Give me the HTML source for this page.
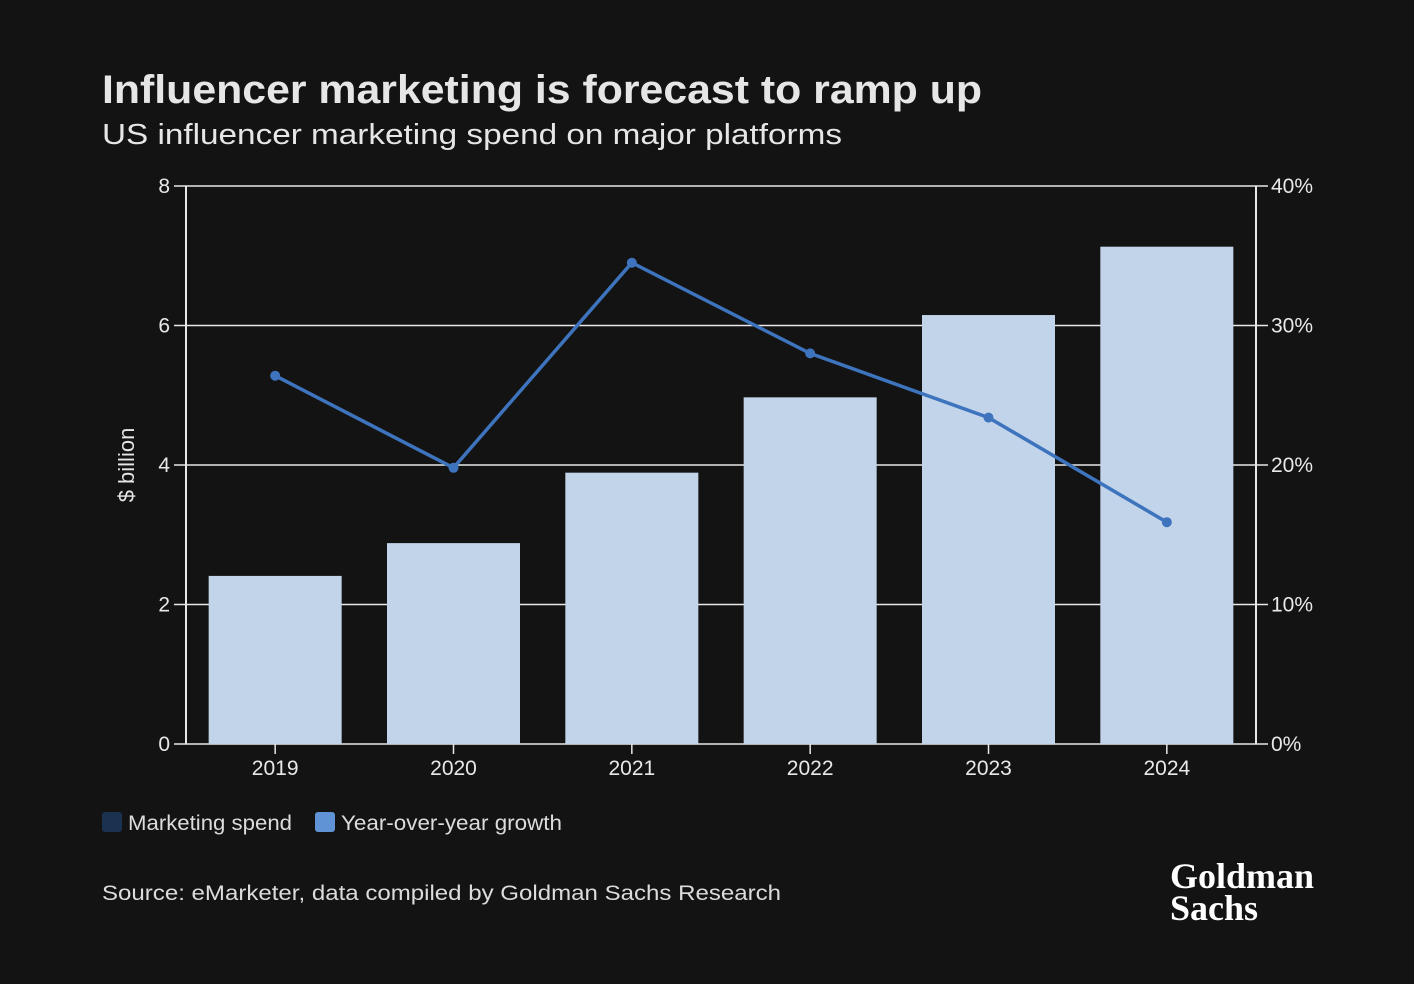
<!DOCTYPE html>
<html><head><meta charset="utf-8"><style>
body{margin:0;background:#131313;width:1414px;height:984px;overflow:hidden;font-family:"Liberation Sans",sans-serif;color:#e6e6e6}
svg{display:block}
svg text{font-family:"Liberation Sans",sans-serif}
</style></head><body>
<svg width="1414" height="984">
<text x="102" y="103" font-size="40" font-weight="bold" fill="#e6e6e6" textLength="880" lengthAdjust="spacingAndGlyphs">Influencer marketing is forecast to ramp up</text>
<text x="102" y="144" font-size="29" fill="#e6e6e6" textLength="740" lengthAdjust="spacingAndGlyphs">US influencer marketing spend on major platforms</text>
<g id="grid"></g><g id="bars"></g><g id="axes"></g><g id="line"></g>
<text transform="translate(134,465) rotate(-90)" text-anchor="middle" font-size="22" fill="#e6e6e6">$ billion</text>
<rect x="102" y="812" width="20" height="20" rx="3" fill="#1b3150"/>
<text x="128" y="830" font-size="21" fill="#dcdcdc" textLength="164" lengthAdjust="spacingAndGlyphs">Marketing spend</text>
<rect x="315" y="812" width="20" height="20" rx="3" fill="#5f93d6"/>
<text x="341" y="830" font-size="21" fill="#dcdcdc" textLength="221" lengthAdjust="spacingAndGlyphs">Year-over-year growth</text>
<text x="102" y="900" font-size="21" fill="#dcdcdc" textLength="679" lengthAdjust="spacingAndGlyphs">Source: eMarketer, data compiled by Goldman Sachs Research</text>
<text x="1170" y="888" font-size="36" font-weight="bold" style="font-family:'Liberation Serif',serif" fill="#fff">Goldman</text>
<text x="1170" y="920" font-size="36" font-weight="bold" style="font-family:'Liberation Serif',serif" fill="#fff">Sachs</text>
</svg>
<script>
const categories=["2019","2020","2021","2022","2023","2024"];
const spend=[2.41,2.88,3.89,4.97,6.15,7.13];
const growth=[26.4,19.8,34.5,28.0,23.4,15.9];
const leftTicks=[0,2,4,6,8];
const rightTicks=["0%","10%","20%","30%","40%"];
const NS="http://www.w3.org/2000/svg";
const X0=186,X1=1256,Y0=744,Y1=186;
const band=(X1-X0)/categories.length;
const xc=i=>X0+band*(i+0.5);
const yL=v=>Y0-(v/8)*(Y0-Y1);
const yR=v=>Y0-(v/40)*(Y0-Y1);
function mk(tag,attrs,parent,text){const e=document.createElementNS(NS,tag);for(const k in attrs)e.setAttribute(k,attrs[k]);if(text!==undefined)e.textContent=text;document.getElementById(parent).appendChild(e);return e;}
const C="#e8e8e8";
leftTicks.forEach((t,i)=>{const y=yL(t);
 const g=mk('line',{x1:X0,x2:X1,y1:y,y2:y,stroke:C,'stroke-width':1.5},'grid');
 
 
 mk('line',{x1:X0-12,x2:X0,y1:y,y2:y,stroke:C,'stroke-width':1.5},'axes');
 mk('line',{x1:X1,x2:X1+12,y1:y,y2:y,stroke:C,'stroke-width':1.5},'axes');
 const a=mk('text',{x:X0-16,y:y+7,'text-anchor':'end','font-size':21,fill:C},'axes',t);
 
 
 const b=mk('text',{x:X1+15,y:y+7,'font-size':21,fill:C},'axes',rightTicks[i]);
 
 
});
mk('line',{x1:X0,x2:X0,y1:Y1,y2:Y0,stroke:C,'stroke-width':2},'axes');
mk('line',{x1:X1,x2:X1,y1:Y1,y2:Y0,stroke:C,'stroke-width':2},'axes');
const bw=133;
categories.forEach((c,i)=>{
 const r=mk('rect',{x:xc(i)-bw/2,y:yL(spend[i]),width:bw,height:Y0-yL(spend[i]),fill:'#c2d4e9'},'bars');
 
 
 mk('line',{x1:xc(i),x2:xc(i),y1:Y0,y2:Y0+10,stroke:C,'stroke-width':1.5},'axes');
 const t=mk('text',{x:xc(i),y:Y0+31,'text-anchor':'middle','font-size':21,fill:C},'axes',c);
 
 
});
const pts=growth.map((g,i)=>xc(i)+','+yR(g)).join(' ');
const pl=mk('polyline',{points:pts,fill:'none',stroke:'#3d74bd','stroke-width':3.5},'line');


growth.forEach((g,i)=>{
 const p=mk('circle',{cx:xc(i),cy:yR(g),r:5,fill:'#3d74bd'},'line');
 
 
});
</script>
</body></html>
